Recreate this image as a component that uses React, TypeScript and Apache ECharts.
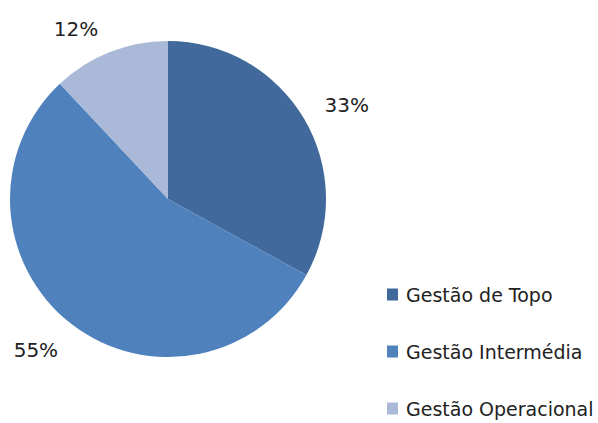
import React, { useEffect, useRef } from "react";
import * as echarts from "echarts";

const categories = ["Gestão de Topo", "Gestão Intermédia", "Gestão Operacional"];
const values = [33, 55, 12];
const colors = ["#41699B", "#4F81BD", "#AAB9D7"];
const labelOffsets = [[0, -4], [3, 12], [0, -6]];

export default function App() {
  const ref = useRef<HTMLDivElement>(null);
  useEffect(() => {
    const chart = echarts.init(ref.current!, null, { renderer: "svg" });
    chart.setOption({
      animation: false,
      color: colors,
      legend: {
        orient: "vertical",
        left: 387,
        top: 285,
        padding: 0,
        icon: "rect",
        itemWidth: 11,
        itemHeight: 12,
        itemGap: 38,
        textStyle: { fontFamily: "DejaVu Sans", fontSize: 19, color: "#222", padding: [0, 0, 0, 3] },
        data: categories,
      },
      series: [
        {
          type: "pie",
          center: [168, 199],
          radius: 158,
          startAngle: 90,
          clockwise: true,
          data: categories.map((c, i) => ({
            name: c,
            value: values[i],
            label: { offset: labelOffsets[i] },
          })),
          label: {
            show: true,
            position: "outside",
            formatter: "{d}%",
            fontFamily: "DejaVu Sans",
            fontSize: 20,
            color: "#222",
          },
          labelLine: { show: false, length: 18, length2: 0 },
        },
      ],
    });
    return () => chart.dispose();
  }, []);
  return <div ref={ref} style={{ width: 598, height: 423, position: "absolute", left: 0, top: 0 }} />;
}
